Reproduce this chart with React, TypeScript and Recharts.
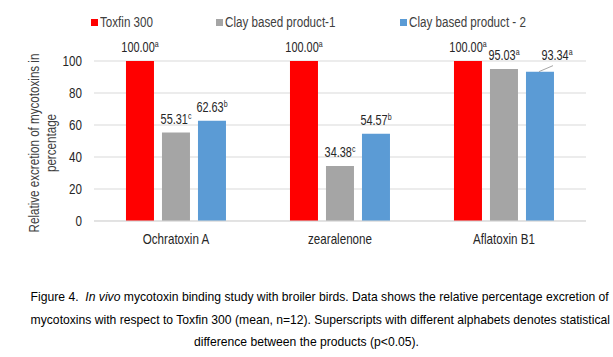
import React from 'react';
import { BarChart, Bar, XAxis, YAxis, CartesianGrid } from 'recharts';

const toxins = ['Ochratoxin A', 'zearalenone', 'Aflatoxin B1'];
const toxfin = [100.0, 100.0, 100.0];
const clay1 = [55.31, 34.38, 95.03];
const clay2 = [62.63, 54.57, 93.34];
const toxfinSup = ['a', 'a', 'a'];
const clay1Sup = ['c', 'c', 'a'];
const clay2Sup = ['b', 'b', 'a'];
const yTicks = [0, 20, 40, 60, 80, 100];

const FONT = '"Liberation Sans", Arial, sans-serif';
// the original uses a narrow face, so Liberation Sans is squeezed sideways
const SX = 0.83;

const series = [
  { key: 'toxfin', name: 'Toxfin 300', color: '#ff0000', sup: toxfinSup },
  { key: 'clay1', name: 'Clay based product-1', color: '#a5a5a5', sup: clay1Sup },
  { key: 'clay2', name: 'Clay based product - 2', color: '#5b9bd5', sup: clay2Sup },
];
const legendLeft = [91, 216, 400];

const data = toxins.map((name, i) => ({
  name,
  toxfin: toxfin[i],
  clay1: clay1[i],
  clay2: clay2[i],
}));

const Narrow = ({ x, y, anchor, children, size = 14, fill = '#262626', sx = SX }: any) => (
  <g transform={`translate(${x},${y}) scale(${sx},1)`}>
    <text x={0} y={0} textAnchor={anchor} fontSize={size} fill={fill} fontFamily={FONT}>
      {children}
    </text>
  </g>
);

const makeLabel = (sup: string[], leader: boolean) => (props: any) => {
  const { x, y, width, value, index } = props;
  let cx = x + width / 2;
  let ty = y - 9;
  let line = null;
  // last blue label is pushed aside in the original, with a leader line
  if (leader && index === 2) {
    line = <line x1={cx - 1} y1={y} x2={cx + 13} y2={y - 6} stroke="#a6a6a6" strokeWidth={1} />;
    cx += 17;
    ty = y - 12;
  }
  return (
    <g>
      {line}
      <Narrow x={cx} y={ty} anchor="middle" sx={0.78}>
        <tspan>{Number(value).toFixed(2)}</tspan>
        <tspan fontSize={9} dy={-5}>{sup[index]}</tspan>
      </Narrow>
    </g>
  );
};

const XTick = (props: any) => {
  const { x, y, payload } = props;
  return <Narrow x={x} y={y + 10} anchor="middle">{payload.value}</Narrow>;
};

const YTick = (props: any) => {
  const { x, y, payload } = props;
  return <Narrow x={x} y={y + 5} anchor="end">{payload.value}</Narrow>;
};

const renderYLabel = () => (
  <g transform="translate(0,143) rotate(-90) scale(0.83,1)">
    <text textAnchor="middle" fontSize={14} fill="#404040" fontFamily={FONT}>
      <tspan x={0} y={39}>Relative excretion of mycotoxins in</tspan>
      <tspan x={0} y={56}>percentage</tspan>
    </text>
  </g>
);

const captionLine: React.CSSProperties = {
  height: 22.6,
  whiteSpace: 'nowrap',
  transform: 'scaleX(0.9)',
  transformOrigin: '306px 0',
};

const App: React.FC = () => {
  return (
    <div style={{ position: 'absolute', left: 0, top: 0, width: 613, height: 357, background: '#fff' }}>
      {series.map((s, i) => (
        <div
          key={s.key}
          style={{ position: 'absolute', left: legendLeft[i], top: 13, display: 'flex', alignItems: 'center', height: 18 }}
        >
          <span style={{ width: 7, height: 7, background: s.color, display: 'inline-block' }} />
          <span
            style={{
              marginLeft: 2,
              fontFamily: FONT,
              fontSize: 14,
              color: '#404040',
              whiteSpace: 'nowrap',
              display: 'inline-block',
              transform: `scaleX(${SX})`,
              transformOrigin: 'left center',
            }}
          >
            {s.name}
          </span>
        </div>
      ))}
      <BarChart
        width={613}
        height={270}
        data={data}
        margin={{ top: 61, right: 27, bottom: 19, left: 0 }}
        barCategoryGap="19.5%"
        barGap={8}
      >
        <CartesianGrid vertical={false} stroke="#d9d9d9" />
        <XAxis
          dataKey="name"
          axisLine={{ stroke: '#d9d9d9' }}
          tickLine={false}
          tickSize={0}
          tickMargin={13}
          height={30}
          tick={<XTick />}
        />
        <YAxis
          domain={[0, 100]}
          ticks={yTicks}
          width={94}
          axisLine={false}
          tickLine={false}
          tickSize={0}
          tickMargin={12}
          tick={<YTick />}
          label={renderYLabel}
        />
        {series.map((s) => (
          <Bar
            key={s.key}
            dataKey={s.key}
            name={s.name}
            fill={s.color}
            isAnimationActive={false}
            label={makeLabel(s.sup, s.key === 'clay2')}
          />
        ))}
      </BarChart>
      <div
        style={{
          position: 'absolute',
          left: 0,
          top: 286,
          width: 613,
          textAlign: 'center',
          fontFamily: FONT,
          fontSize: 13.5,
          lineHeight: '22.6px',
          color: '#000',
        }}
      >
        <div style={captionLine}>
          Figure 4.&nbsp; <i>In vivo</i> mycotoxin binding study with broiler birds. Data shows the relative percentage excretion of
        </div>
        <div style={captionLine}>
          mycotoxins with respect to Toxfin 300 (mean, n=12). Superscripts with different alphabets denotes statistical
        </div>
        <div style={captionLine}>difference between the products (p&lt;0.05).</div>
      </div>
    </div>
  );
};

export default App;
